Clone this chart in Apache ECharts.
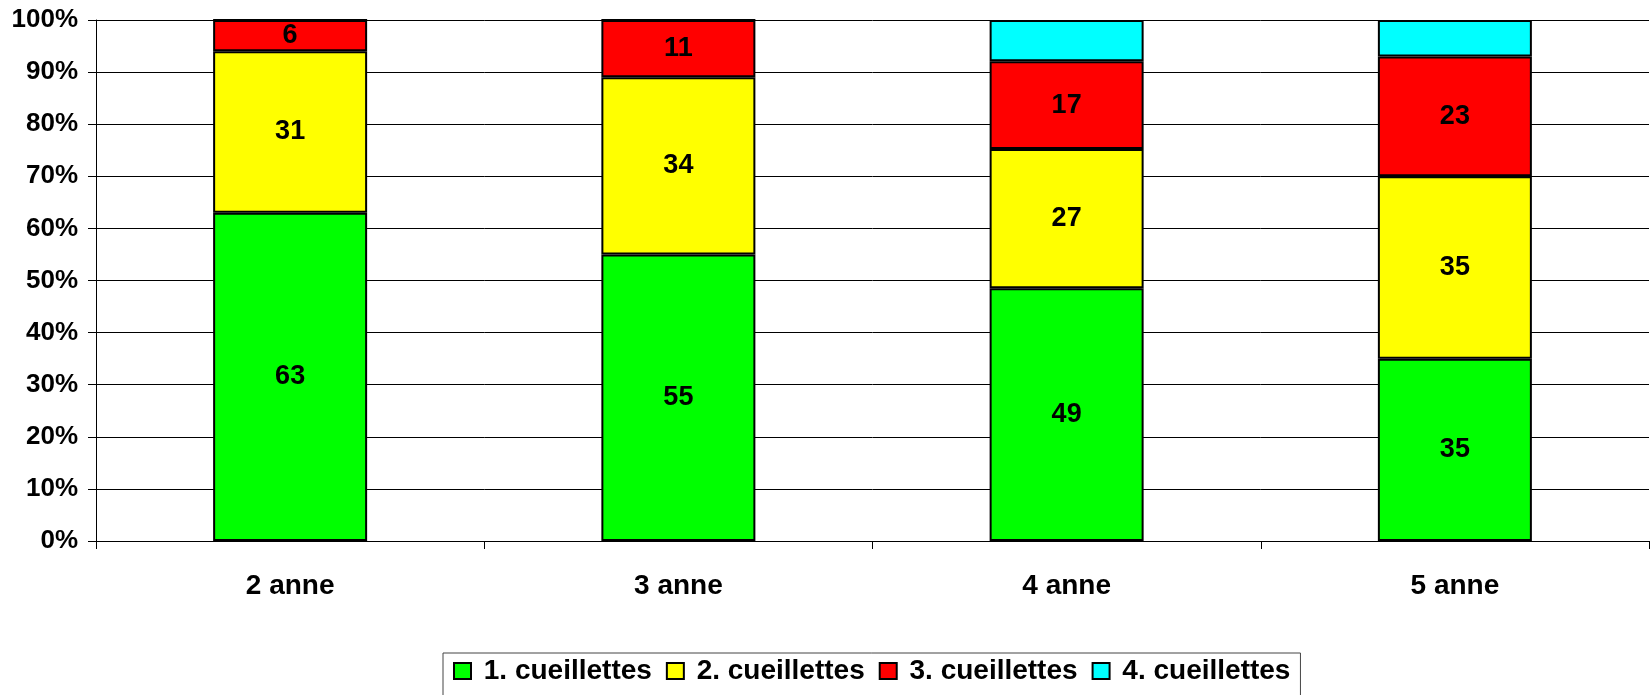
<!DOCTYPE html>
<html>
<head>
<meta charset="utf-8">
<script src="https://cdn.jsdelivr.net/npm/echarts@6/dist/echarts.min.js"></script>
<style>
  html, body { margin: 0; padding: 0; background: #fff; }
  #chart { width: 1652px; height: 695px; }
</style>
</head>
<body>
<div id="chart"></div>
<script>
  // categories and values (labels shown on bars)
  var years = ['2 anne', '3 anne', '4 anne', '5 anne'];
  var c1 = [63, 55, 49, 35];
  var c2 = [31, 34, 27, 35];
  var c3 = [6, 11, 17, 23];
  var c4 = [0, 0, 8, 7];
  var names = ['1. cueillettes', '2. cueillettes', '3. cueillettes', '4. cueillettes'];
  var colors = ['#00ff00', '#ffff00', '#ff0000', '#00ffff'];

  var raw = [c1, c2, c3, c4];
  var totals = years.map(function (y, i) {
    return c1[i] + c2[i] + c3[i] + c4[i];
  });

  var font = '"Liberation Sans", Arial, sans-serif';

  var series = raw.map(function (arr, k) {
    return {
      name: names[k],
      type: 'bar',
      stack: 'total',
      barWidth: 154,
      data: arr.map(function (v, i) { return { value: v / totals[i] * 100, raw: v }; }),
      itemStyle: { color: colors[k], borderColor: '#000', borderWidth: 2 },
      label: {
        show: k < 3,
        position: 'inside',
        color: '#000',
        fontFamily: font,
        fontWeight: 'bold',
        fontSize: 27,
        formatter: function (p) { return p.data.raw; }
      },
      emphasis: { disabled: true }
    };
  });

  var chart = echarts.init(document.getElementById('chart'));
  chart.setOption({
    animation: false,
    backgroundColor: '#fff',
    grid: { left: 96, right: 3, top: 20, bottom: 154 },
    legend: {
      left: 443,
      top: 653,
      data: names,
      icon: 'rect',
      itemWidth: 17,
      itemHeight: 16,
      itemGap: 14,
      padding: [4, 10, 30, 10],
      borderColor: '#444',
      borderWidth: 1,
      formatter: function (n) { return ' ' + n; },
      textStyle: {
        fontFamily: font,
        fontWeight: 'bold',
        fontSize: 28,
        color: '#000'
      },
      itemStyle: { borderColor: '#000', borderWidth: 2 }
    },
    xAxis: {
      type: 'category',
      data: years,
      axisLine: { lineStyle: { color: '#000', width: 1 } },
      axisTick: { show: true, length: 8, lineStyle: { color: '#000' } },
      axisLabel: {
        margin: 31,
        color: '#000',
        fontFamily: font,
        fontWeight: 'bold',
        fontSize: 28
      }
    },
    yAxis: {
      type: 'value',
      min: 0,
      max: 100,
      interval: 10,
      axisLine: { show: true, lineStyle: { color: '#000', width: 1 } },
      axisTick: { show: true, length: 8, lineStyle: { color: '#000' } },
      splitLine: { lineStyle: { color: '#000', width: 1 } },
      axisLabel: {
        margin: 18,
        color: '#000',
        fontFamily: font,
        fontWeight: 'bold',
        fontSize: 26,
        formatter: '{value}%'
      }
    },
    series: series
  });
</script>
</body>
</html>
